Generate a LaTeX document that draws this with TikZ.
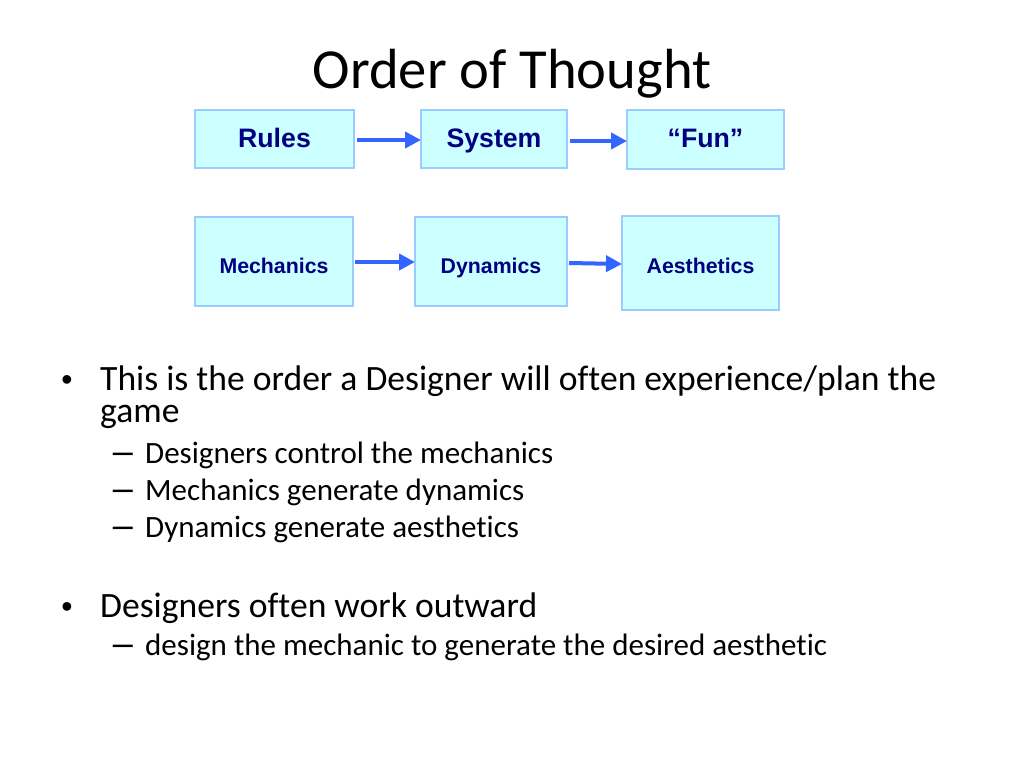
\documentclass[tikz,border=0pt]{standalone}
\usepackage{fontspec}
\setmainfont[Ligatures={NoCommon}]{Carlito}
\newfontfamily\arialfont{Liberation Sans}
\usetikzlibrary{arrows.meta}
\definecolor{boxfill}{HTML}{CCFFFF}
\definecolor{boxline}{HTML}{99CCFF}
\definecolor{navy}{HTML}{000080}
\definecolor{arrowblue}{HTML}{3366FF}
\tikzset{
  box/.style={draw=boxline, line width=2.5pt, fill=boxfill, inner sep=0pt},
  bigl/.style={anchor=base, inner sep=0pt, font=\arialfont\bfseries\fontsize{26.7}{30}\selectfont, text=navy},
  smalll/.style={anchor=base, inner sep=0pt, font=\arialfont\bfseries\fontsize{21.3}{25}\selectfont, text=navy},
  flow/.style={draw=arrowblue, line width=4pt, -{Triangle[length=16pt,width=16pt]}, shorten >=0pt},
  lvlone/.style={anchor=base west, inner sep=0pt, text depth=0pt, font=\fontsize{35.6}{40}\selectfont},
  lvltwo/.style={anchor=base west, inner sep=0pt, text depth=0pt, font=\fontsize{31}{36}\selectfont},
  bul/.style={anchor=base, inner sep=0pt, text depth=0pt, font=\arialfont\fontsize{32}{36}\selectfont},
  dsh/.style={anchor=base, inner sep=0pt, text depth=0pt, font=\arialfont\fontsize{36}{36}\selectfont},
}
\begin{document}
\begin{tikzpicture}[x=1pt,y=-1pt]
\useasboundingbox (0,0) rectangle (1024,768);
\fill[white] (0,0) rectangle (1024,768);
% title
\node[anchor=base, inner sep=0pt, font=\fontsize{56.6}{62}\selectfont] (title) at (512,88) {Order of Thought};
% row 1
\draw[box] (195,110) rectangle (354,168);
\node[bigl] (rules) at (274.5,147) {Rules};
\coordinate (rulesE) at (354,140);
\draw[box] (421,110) rectangle (567,168);
\node[bigl] (system) at (494,147) {System};
\coordinate (systemW) at (421,140);
\coordinate (systemE) at (567,141);
\draw[box] (627,110) rectangle (784,169);
\node[bigl] (fun) at (705.5,147) {“Fun”};
\coordinate (funW) at (627,141);
\draw[flow] ([xshift=3pt]rulesE) -- (systemW);
\draw[flow] ([xshift=3pt]systemE) -- (funW);
% row 2
\draw[box] (195,217) rectangle (353,306);
\node[smalll] (mech) at (274,273) {Mechanics};
\coordinate (mechE) at (353,262);
\draw[box] (415,217) rectangle (567,306);
\node[smalll] (dyn) at (491,273) {Dynamics};
\coordinate (dynW) at (415,262);
\coordinate (dynE) at (567,263);
\draw[box] (622,216) rectangle (779,310);
\node[smalll] (aes) at (700.5,273) {Aesthetics};
\coordinate (aesW) at (622,264);
\draw[flow] ([xshift=2pt]mechE) -- (dynW);
\draw[flow] ([xshift=2pt]dynE) -- (aesW);
% bullets
\node[bul] (b1) at (67,390) {•};
\node[lvlone] (t1) at (100,390) {This is the order a Designer will often experience/plan the};
\node[lvlone, text height=17pt] (t1b) at (100,422) {game};
\node[dsh] (d1) at (123,463) {–};
\node[lvltwo] (s1) at (145,463) {Designers control the mechanics};
\node[dsh] (d2) at (123,500) {–};
\node[lvltwo] (s2) at (145,500) {Mechanics generate dynamics};
\node[dsh] (d3) at (123,537) {–};
\node[lvltwo] (s3) at (145,537) {Dynamics generate aesthetics};
\node[bul] (b2) at (67,617) {•};
\node[lvlone] (t2) at (100,617) {Designers often work outward};
\node[dsh] (d4) at (123,655) {–};
\node[lvltwo] (s4) at (145,655) {design the mechanic to generate the desired aesthetic};
\end{tikzpicture}
\end{document}
